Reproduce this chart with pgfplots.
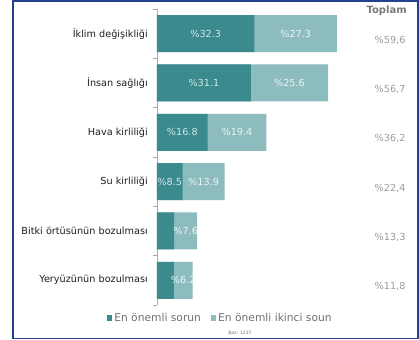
\documentclass[border=0pt]{standalone}
\usepackage{fontspec}
\setmainfont{DejaVu Sans}
\usepackage{pgfplots}
\pgfplotsset{compat=1.18}
\usepackage{pgfplotstable}

\definecolor{barDark}{RGB}{58,138,142}
\definecolor{barLight}{RGB}{141,188,191}
\definecolor{frameBlue}{RGB}{35,65,140}
\definecolor{axisGray}{RGB}{170,170,170}
\definecolor{labelBlack}{RGB}{30,30,30}
\definecolor{totalGray}{RGB}{155,155,155}
\definecolor{headGray}{RGB}{120,120,120}
\definecolor{legendGray}{RGB}{110,110,110}
\definecolor{onDark}{RGB}{210,230,230}
\definecolor{onLight}{RGB}{236,244,244}

% y: row position (6 = top), first / second: share of respondents, total: sum
\pgfplotstableread{
y first second total
6 32.3 27.3 59.6
5 31.1 25.6 56.7
4 16.8 19.4 36.2
3 8.5  13.9 22.4
2 5.7  7.6  13.3
1 5.6  6.2  11.8
}\issues

\pgfplotsset{
  sqlegend/.style={legend image code/.code={\fill[##1] (0bp,-2.6bp) rectangle (5.2bp,2.6bp);}},
  valuelabels/.style={
    only marks, mark=*, mark size=0pt, mark options={draw=none, fill=none},
    point meta=explicit, forget plot,
    nodes near coords={\%\pgfmathprintnumber[assume math mode=true,fixed,fixed zerofill,precision=1]{\pgfplotspointmeta}},
    every node near coord/.style={anchor=center, inner sep=0pt, font=\fontsize{9.7bp}{11bp}\selectfont, text=#1},
  },
}

\begin{document}
\begin{tikzpicture}
\path (0bp,0bp) rectangle (419bp,340bp);
\draw[frameBlue, line width=1.8bp] (12.8bp,1.4bp) rectangle (418.2bp,338.6bp);
\begin{axis}[
  at={(157bp,35bp)}, anchor=south west,
  scale only axis, width=181.2bp, height=296bp,
  xmin=0, xmax=60, ymin=0.5, ymax=6.5,
  axis x line=none, axis y line*=left, xtick=\empty,
  axis line style={draw=axisGray, line width=0.6bp},
  ytick={1,...,6},
  yticklabels={Yeryüzünün bozulması, Bitki örtüsünün bozulması, Su kirliliği, Hava kirliliği, İnsan sağlığı, İklim değişikliği},
  minor ytick={0.5,1.5,...,6.5},
  major tick length=0pt, minor tick length=3.5bp, tick align=outside,
  minor tick style={draw=axisGray, line width=0.6bp},
  yticklabel style={font=\fontsize{9.7bp}{11bp}\selectfont, text=labelBlack, inner sep=0pt, xshift=-9bp},
  clip=false,
  legend columns=2, reverse legend,
  legend style={at={(0.35,-0.044)}, anchor=center, draw=none, fill=none,
    font=\fontsize{10.7bp}{12bp}\selectfont, text=legendGray,
    /tikz/every even column/.append style={column sep=8bp}},
  legend cell align=left,
]
% total bar underneath, most important issue drawn over it
\addplot[xbar, bar width=37bp, bar shift=0pt, fill=barLight, draw=none, sqlegend]
  table[x=total, y=y] {\issues};
\addlegendentry{En önemli ikinci soun}
\addplot[xbar, bar width=37bp, bar shift=0pt, fill=barDark, draw=none, sqlegend]
  table[x=first, y=y] {\issues};
\addlegendentry{En önemli sorun}

% segment labels
\addplot[valuelabels=onDark, skip coords between index={4}{6}]
  table[x expr=\thisrow{first}/2, y=y, meta=first] {\issues};
\addplot[valuelabels=onLight]
  table[x expr=\thisrow{first}+\thisrow{second}/2, y=y, meta=second] {\issues};

% totals column
\addplot[only marks, mark=*, mark size=0pt, mark options={draw=none, fill=none},
  point meta=explicit, forget plot,
  nodes near coords={\%\pgfmathprintnumber[assume math mode=true,fixed,fixed zerofill,precision=1,use comma]{\pgfplotspointmeta}},
  every node near coord/.style={anchor=center, inner sep=0pt, font=\fontsize{9.7bp}{11bp}\selectfont, text=totalGray}]
  table[x expr=77.2, y expr=\thisrow{y}-0.13, meta=total] {\issues};
\end{axis}
\node[font=\bfseries\fontsize{10bp}{12bp}\selectfont, text=headGray] at (386.7bp,329.3bp) {Toplam};
\node[font=\fontsize{4.5bp}{5bp}\selectfont, text=legendGray] at (240bp,7bp) {Baz: 1237};
\end{tikzpicture}
\end{document}
